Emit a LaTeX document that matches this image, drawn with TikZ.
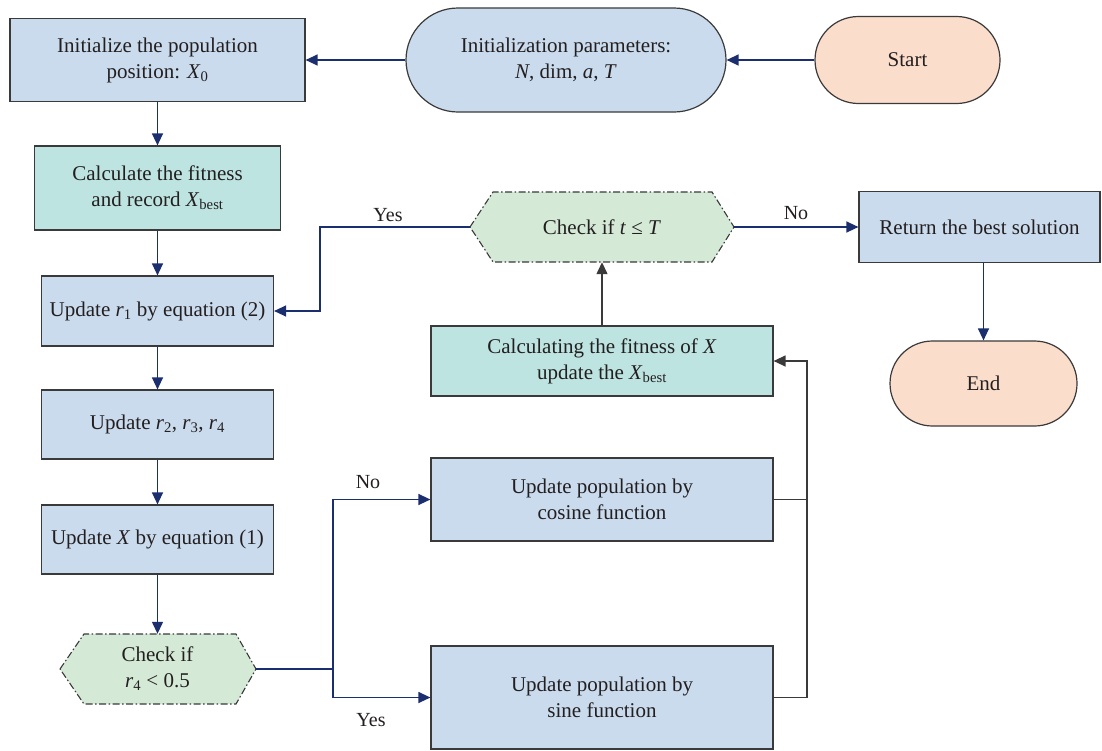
\documentclass[tikz,border=0pt]{standalone}
\usepackage{fontspec}
\setmainfont{Liberation Serif}
\usetikzlibrary{arrows.meta,shapes.misc}
\definecolor{bfill}{HTML}{CADBED}
\definecolor{tfill}{HTML}{BDE4E1}
\definecolor{pfill}{HTML}{FBDDCC}
\definecolor{gfill}{HTML}{D4EAD6}
\definecolor{navy}{HTML}{1B2F6E}
\definecolor{bord}{HTML}{3A3A3A}
\definecolor{txt}{HTML}{231F20}
\tikzset{
  base/.style={font=\fontsize{21}{26}\selectfont, text=txt, align=center, inner sep=0pt},
  bbox/.style={base, draw=bord, line width=1.2pt, fill=bfill, rectangle},
  tbox/.style={bbox, fill=tfill},
  stad/.style={base, draw=bord, line width=1.2pt, rounded rectangle},
  hexn/.style={base, rectangle},
  hexline/.style={draw=bord, line width=1.1pt, fill=gfill, dash pattern=on 7pt off 2.5pt on 1.5pt off 2.5pt},
  conn/.style={draw=navy, line width=1.3pt},
  arr/.style={conn, -{Triangle[length=12pt,width=11pt]}},
  karr/.style={draw=bord, line width=1.3pt, -{Triangle[length=12pt,width=11pt]}},
  kconn/.style={draw=bord, line width=1.3pt},
  lab/.style={font=\fontsize{20}{24}\selectfont, text=txt, inner sep=0pt}
}
\begin{document}
\begin{tikzpicture}[x=1pt,y=-1pt]
\useasboundingbox (0,0) rectangle (1102,750);
\fill[white] (0,0) rectangle (1102,750);
% nodes
\node[bbox, minimum width=295pt, minimum height=83pt] (pop) at (157.5,60) {Initialize the population\\position: \textit{X}\textsubscript{0}};
\node[stad, fill=bfill, minimum width=320pt, minimum height=104pt] (par) at (566,60) {Initialization parameters:\\\textit{N}, dim, \textit{a}, \textit{T}};
\node[stad, fill=pfill, minimum width=185pt, minimum height=87pt] (start) at (907.5,60) {Start};
\node[tbox, minimum width=246pt, minimum height=84pt] (fit) at (157.5,188) {Calculate the fitness\\and record \textit{X}\textsubscript{best}};
\node[bbox, minimum width=232pt, minimum height=70pt] (r1) at (157.5,311) {Update \textit{r}\textsubscript{1} by equation (2)};
\node[bbox, minimum width=232pt, minimum height=69pt] (r2) at (157.5,424.5) {Update \textit{r}\textsubscript{2}, \textit{r}\textsubscript{3}, \textit{r}\textsubscript{4}};
\node[bbox, minimum width=232pt, minimum height=69pt] (ux) at (157.5,539.5) {Update \textit{X} by equation (1)};
% hexagon r4
\path[hexline] (60,669) -- (84,634) -- (236,634) -- (256,669) -- (236,704) -- (84,704) -- cycle;
\node[hexn, minimum width=196pt, minimum height=70pt] (c4) at (157.5,669) {Check if\\\textit{r}\textsubscript{4} < 0.5};
% hexagon t
\path[hexline] (470,227) -- (493,192) -- (712,192) -- (734,227) -- (712,262) -- (493,262) -- cycle;
\node[hexn, minimum width=264pt, minimum height=70pt] (ct) at (602,227) {Check if \textit{t} ≤ \textit{T}};
\node[bbox, minimum width=241pt, minimum height=71pt] (ret) at (979.5,227) {Return the best solution};
\node[stad, fill=pfill, minimum width=187pt, minimum height=85pt] (end) at (983.5,383.5) {End};
\node[tbox, minimum width=342pt, minimum height=70pt] (cx) at (602,361) {Calculating the fitness of \textit{X}\\update the \textit{X}\textsubscript{best}};
\node[bbox, minimum width=342pt, minimum height=83pt] (cos) at (602,499.5) {Update population by\\cosine function};
\node[bbox, minimum width=342pt, minimum height=103pt] (sin) at (602,697.5) {Update population by\\sine function};
% coordinates
\coordinate (j1) at (333,669);
\coordinate (j2) at (807,499.5);
\coordinate (j3) at (807,697.5);
\coordinate (j4) at (320,227);
% connectors
\draw[arr] (start.west) -- (par.east);
\draw[arr] (par.west) -- (pop.east);
\draw[arr] (pop.south) -- (fit.north);
\draw[arr] (fit.south) -- (r1.north);
\draw[arr] (r1.south) -- (r2.north);
\draw[arr] (r2.south) -- (ux.north);
\draw[arr] (ux.south) -- (c4.north);
\draw[conn] (c4.east) -- (j1);
\draw[arr] (j1) |- (cos.west);
\draw[arr] (j1) |- (sin.west);
\draw[kconn] (cos.east) -- (j2);
\draw[kconn] (sin.east) -- (j3);
\draw[karr] (j3) |- (cx.east);
\draw[karr] (cx.north) -- (ct.south);
\draw[arr] (ct.west) -- (j4) |- (r1.east);
\draw[arr] (ct.east) -- (ret.west);
\draw[arr] (end.north |- ret.south) -- (end.north);
% labels
\node[lab] (lyes1) at (388,215) {Yes};
\node[lab] (lno1) at (796,213) {No};
\node[lab] (lno2) at (368,482) {No};
\node[lab] (lyes2) at (371,720) {Yes};
\end{tikzpicture}
\end{document}
